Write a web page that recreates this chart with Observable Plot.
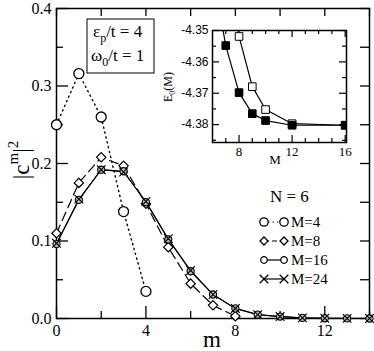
<!DOCTYPE html>
<html>
<head>
<meta charset="utf-8">
<script src="https://cdn.jsdelivr.net/npm/d3@7"></script>
<script src="https://cdn.jsdelivr.net/npm/@observablehq/plot@0.6"></script>
<style>
  html, body { margin: 0; padding: 0; background: white; }
  #wrap { position: relative; width: 374px; height: 351px; overflow: hidden; }
  #wrap svg { position: absolute; overflow: visible; }
  #wrap svg text { font-family: "Liberation Serif", "Times New Roman", serif; }
  #wrap svg .sans, #wrap svg .sans text { font-family: "Liberation Sans", Arial, sans-serif; }
</style>
</head>
<body>
<div id="wrap"></div>
<script>
// ---------- data ----------
const mIndex = d3.range(0, 15);
const cM4  = [0.250, 0.316, 0.260, 0.138, 0.035];
const cM8  = [0.110, 0.175, 0.208, 0.197, 0.148, 0.092, 0.045, 0.017, 0.003];
const cM16 = [0.096, 0.153, 0.192, 0.190, 0.150, 0.102, 0.061, 0.031, 0.013, 0.005, 0.0025, 0.0008, 0.0003, 0.0001, 0.0];
const cM24 = [0.097, 0.154, 0.192, 0.189, 0.151, 0.103, 0.062, 0.031, 0.013, 0.005, 0.0025, 0.0008, 0.0003, 0.0001, 0.0];

const insetMFilled = [6, 7, 8, 9, 10, 12, 16];
const insetEFilled = [-4.331, -4.3548, -4.3698, -4.3765, -4.3787, -4.3802, -4.3802];
const insetMOpen   = [7, 8, 9, 10, 12, 16];
const insetEOpen   = [-4.325, -4.3519, -4.3679, -4.3752, -4.3797, -4.3802];

const xMajor = [0, 4, 8, 12];
const xMinor = [2, 6, 10, 14];
const yMajor = [0, 0.1, 0.2, 0.3, 0.4];
const yMinor = [0.05, 0.15, 0.25, 0.35];

const insetXMajor = [8, 12, 16];
const insetXMinor = [7, 9, 10, 11, 13, 14, 15];
const insetYMajor = [-4.35, -4.36, -4.37, -4.38];
const insetYMinor = [-4.355, -4.365, -4.375, -4.385];

const legendItems = ["M=4", "M=8", "M=16", "M=24"];

const toRows = arr => arr.map((v, i) => ({m: mIndex[i], c: v}));
const rows4 = toRows(cM4), rows8 = toRows(cM8), rows16 = toRows(cM16), rows24 = toRows(cM24);
const insetFilled = insetMFilled.map((M, i) => ({M, E: insetEFilled[i]}));
const insetOpen = insetMOpen.map((M, i) => ({M, E: insetEOpen[i]}));

// ---------- main chart ----------
const W = 374, H = 351, mL = 56, mR = 5, mT = 8, mB = 33;
const pw = W - mL - mR, ph = H - mT - mB;

const main = Plot.plot({
  width: W, height: H,
  marginLeft: mL, marginRight: mR, marginTop: mT, marginBottom: mB,
  style: {fontSize: "16px", background: "transparent", color: "black"},
  x: {domain: [0, 14]},
  y: {domain: [0, 0.4]},
  marks: [
    Plot.axisX({ticks: xMajor, tickSize: 0, tickPadding: 6, label: null, fontSize: 16}),
    Plot.axisY({ticks: yMajor, tickSize: 0, tickPadding: 5, label: null, fontSize: 16, tickFormat: d3.format(".1f")}),
    // inward ticks
    Plot.tickX(xMajor, {x: d => d, insetTop: ph - 12, stroke: "black", strokeWidth: 1.3}),
    Plot.tickX(xMinor, {x: d => d, insetTop: ph - 7, stroke: "black", strokeWidth: 1.3}),
    Plot.tickX(xMajor.concat(xMinor), {x: d => d, insetBottom: ph - 8, stroke: "black", strokeWidth: 1.3}),
    Plot.tickY(yMajor, {y: d => d, insetRight: pw - 12, stroke: "black", strokeWidth: 1.3}),
    Plot.tickY(yMinor, {y: d => d, insetRight: pw - 7, stroke: "black", strokeWidth: 1.3}),
    Plot.tickY(yMajor.concat(yMinor), {y: d => d, insetLeft: pw - 9, stroke: "black", strokeWidth: 1.3}),
    Plot.frame({stroke: "black", strokeWidth: 1.5}),
    // series
    Plot.line(rows4, {x: "m", y: "c", stroke: "black", strokeWidth: 1.4, strokeDasharray: "1.3,3.7", strokeLinecap: "round"}),
    Plot.line(rows8, {x: "m", y: "c", stroke: "black", strokeWidth: 1.2, strokeDasharray: "9,5"}),
    Plot.line(rows16, {x: "m", y: "c", stroke: "black", strokeWidth: 1.2}),
    Plot.line(rows24, {x: "m", y: "c", stroke: "black", strokeWidth: 1}),
    Plot.dot(rows4, {x: "m", y: "c", symbol: "circle", r: 5, stroke: "black", strokeWidth: 1.3, fill: "white"}),
    Plot.dot(rows8, {x: "m", y: "c", symbol: "diamond2", r: 4.2, stroke: "black", strokeWidth: 1.2, fill: "white"}),
    Plot.dot(rows16, {x: "m", y: "c", symbol: "circle", r: 3.6, stroke: "black", strokeWidth: 1.1, fill: "#bbb"}),
    Plot.dot(rows24, {x: "m", y: "c", symbol: "times", r: 4, stroke: "black", strokeWidth: 1.1})
  ]
});
main.style.left = "0px"; main.style.top = "0px";
document.getElementById("wrap").appendChild(main);

const svg = d3.select(main);

// y-axis label |c^m|^2
const yl = svg.append("text")
  .attr("transform", "translate(29,160) rotate(-90)")
  .attr("text-anchor", "middle")
  .attr("font-size", 23).attr("fill", "black");
yl.append("tspan").text("|c");
yl.append("tspan").attr("font-size", 15).attr("dy", -11).text("m");
yl.append("tspan").attr("dy", 11).text("|");
yl.append("tspan").attr("font-size", 15).attr("dy", -11).text("2");

// x-axis label
svg.append("text").attr("x", 212).attr("y", 347).attr("text-anchor", "middle")
  .attr("font-size", 23).attr("fill", "black").text("m");

// parameter box
svg.append("rect").attr("x", 87).attr("y", 19).attr("width", 67).attr("height", 54)
  .attr("fill", "white").attr("stroke", "black").attr("stroke-width", 1);
const t1 = svg.append("text").attr("x", 93).attr("y", 37).attr("text-anchor", "start")
  .attr("font-size", 17).attr("fill", "black");
t1.append("tspan").text("ε");
t1.append("tspan").attr("font-size", 12).attr("dy", 5).text("p");
t1.append("tspan").attr("dy", -5).text("/t = 4");
const t2 = svg.append("text").attr("x", 91).attr("y", 61).attr("text-anchor", "start")
  .attr("font-size", 17).attr("fill", "black");
t2.append("tspan").text("ω");
t2.append("tspan").attr("font-size", 12).attr("dy", 5).text("0");
t2.append("tspan").attr("dy", -5).text("/t = 1");

// legend
svg.append("text").attr("x", 270).attr("y", 202).attr("text-anchor", "start")
  .attr("font-size", 17).attr("fill", "black").text("N = 6");
const legY = [222, 241, 260, 279];
const sym = {
  "M=4": {path: d3.symbol(d3.symbolCircle, Math.PI * 4.2 * 4.2)(), dash: "1.3,3", fill: "white"},
  "M=8": {path: d3.symbol(d3.symbolDiamond2, Math.PI * 3.6 * 3.6)(), dash: "5,3", fill: "white"},
  "M=16": {path: d3.symbol(d3.symbolCircle, Math.PI * 3.3 * 3.3)(), dash: null, fill: "white"},
  "M=24": {path: d3.symbol(d3.symbolTimes, Math.PI * 4 * 4)(), dash: null, fill: "none"}
};
legendItems.forEach((lab, i) => {
  const y = legY[i], s = sym[lab];
  svg.append("line").attr("x1", 264).attr("x2", 284).attr("y1", y).attr("y2", y)
    .attr("stroke", "black").attr("stroke-width", 1.2).attr("stroke-dasharray", s.dash);
  [264, 284].forEach(x => svg.append("path").attr("d", s.path)
    .attr("transform", `translate(${x},${y})`).attr("fill", s.fill)
    .attr("stroke", "black").attr("stroke-width", 1.3));
  svg.append("text").attr("x", 291).attr("y", y + 5).attr("text-anchor", "start")
    .attr("font-size", 15).attr("fill", "black").text(lab);
});

// ---------- inset ----------
const iL = 150, iT = 0, iW = 224, iH = 170;
const imL = 62, imR = 28, imT = 30, imB = 28;
const ipw = iW - imL - imR, iph = iH - imT - imB;
const inset = Plot.plot({
  width: iW, height: iH,
  marginLeft: imL, marginRight: imR, marginTop: imT, marginBottom: imB,
  style: {fontSize: "13px", background: "transparent", color: "black"},
  x: {domain: [6, 16.1]},
  y: {domain: [-4.3857, -4.35]},
  marks: [
    Plot.frame({fill: "white"}),
    Plot.axisX({ticks: insetXMajor, tickSize: 0, tickPadding: 4, label: null, fontSize: 13}),
    Plot.axisY({ticks: insetYMajor, tickSize: 0, tickPadding: 4, label: null, fontSize: 12,
      className: "sans", tickFormat: d => d3.format(".2f")(d).replace("−", "-")}),
    Plot.tickX(insetXMajor, {x: d => d, insetTop: iph - 7, stroke: "black", strokeWidth: 1.2}),
    Plot.tickX(insetXMinor, {x: d => d, insetTop: iph - 4, stroke: "black", strokeWidth: 1.2}),
    Plot.tickX(insetXMajor, {x: d => d, insetBottom: iph - 7, stroke: "black", strokeWidth: 1.2}),
    Plot.tickX(insetXMinor, {x: d => d, insetBottom: iph - 4, stroke: "black", strokeWidth: 1.2}),
    Plot.tickY(insetYMajor, {y: d => d, insetRight: ipw - 7, stroke: "black", strokeWidth: 1.2}),
    Plot.tickY(insetYMinor, {y: d => d, insetRight: ipw - 4, stroke: "black", strokeWidth: 1.2}),
    Plot.tickY(insetYMajor, {y: d => d, insetLeft: ipw - 7, stroke: "black", strokeWidth: 1.2}),
    Plot.tickY(insetYMinor, {y: d => d, insetLeft: ipw - 4, stroke: "black", strokeWidth: 1.2}),
    Plot.line(insetOpen, {x: "M", y: "E", stroke: "black", strokeWidth: 1.2, clip: true}),
    Plot.line(insetFilled, {x: "M", y: "E", stroke: "black", strokeWidth: 1.2, clip: true}),
    Plot.dot(insetOpen, {x: "M", y: "E", symbol: "square", r: 4.3, fill: "white", stroke: "black", strokeWidth: 1, clip: true}),
    Plot.dot(insetFilled, {x: "M", y: "E", symbol: "square", r: 4.3, fill: "black", stroke: "black", strokeWidth: 1, clip: true}),
    Plot.frame({stroke: "black", strokeWidth: 1.5})
  ]
});
inset.style.left = iL + "px"; inset.style.top = iT + "px";
document.getElementById("wrap").appendChild(inset);
const isvg = d3.select(inset);
isvg.selectAll("g[aria-label='y-axis tick label'] text, g[aria-label='y-axis tick label']").classed("sans", true);
const el = isvg.append("text").attr("transform", "translate(22,87) rotate(-90)")
  .attr("text-anchor", "middle").attr("font-size", 12).attr("fill", "black");
el.append("tspan").text("E");
el.append("tspan").attr("font-size", 8).attr("dy", 3).text("0");
el.append("tspan").attr("dy", -3).text("(M)");
isvg.append("text").attr("x", 125).attr("y", 164).attr("text-anchor", "middle")
  .attr("font-size", 13).attr("fill", "black").text("M");
</script>
</body>
</html>
